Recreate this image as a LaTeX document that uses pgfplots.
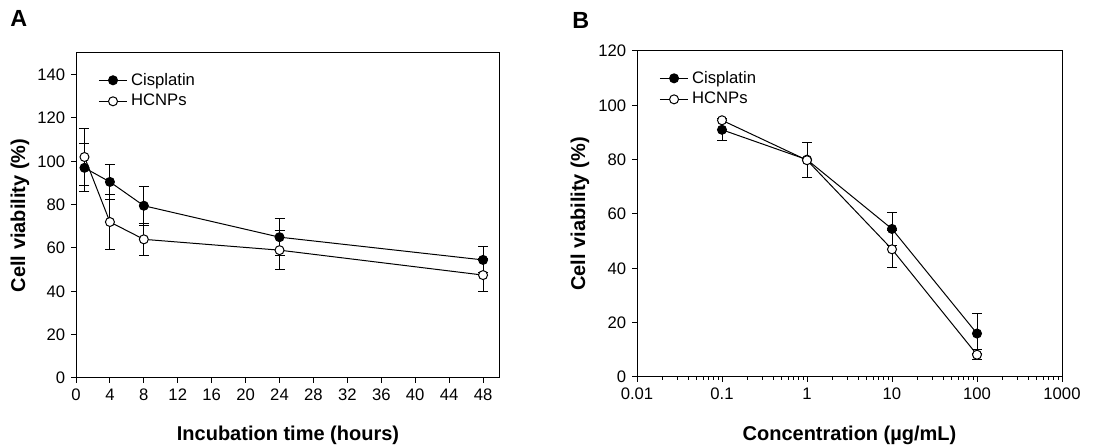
\documentclass[border=0pt]{standalone}
\usepackage{fontspec}
\setmainfont{Liberation Sans}
\usepackage{pgfplots}
\usepackage{pgfplotstable}
\pgfplotsset{compat=1.18}

\pgfplotstableread{
x   y     e
1   97    11
4   90.5  8
8   79.5  9
24  65    8.5
48  54.5  6
}\timeCis
\pgfplotstableread{
x   y     e
1   102   13
4   72    12.5
8   64    7.5
24  59    9
48  47.5  7.5
}\timeHC
\pgfplotstableread{
x     y     e
0.1   91    4
1     80    6.5
10    54.5  6
100   16    7.5
}\concCis
\pgfplotstableread{
x     y     e
0.1   94.5  0
1     79.8  6.5
10    47    6.8
100   8.2   1.8
}\concHC

\pgfplotsset{
  cellstyle/.style={
    scale only axis, anchor=south west,
    axis line style={line width=0.6pt},
    tick align=outside, tick pos=left,
    major tick length=3pt, minor tick length=1.8pt,
    tick style={line width=0.6pt, black},
    tick label style={font=\fontsize{10}{12}\selectfont},
    /pgf/number format/assume math mode=true,
    label style={font=\fontsize{12}{14}\selectfont\bfseries},
    legend style={draw=none, fill=none, font=\fontsize{10}{12}\selectfont,
      at={(0.04,0.96)}, anchor=north west},
    legend cell align=left,
  },
  filledser/.style={black, line width=0.6pt, mark=*, mark size=2.7pt,
    mark options={fill=black, line width=0.6pt}},
  openser/.style={black, line width=0.6pt, mark=*, mark size=2.7pt,
    mark options={fill=white, line width=0.6pt}},
}

\begin{document}
\begin{tikzpicture}
\useasboundingbox (0,0) rectangle (670.2pt,267pt);

\begin{axis}[cellstyle, at={(45.6pt,40.2pt)},
  width=254.4pt, height=195pt,
  xmin=0, xmax=50, ymin=0, ymax=150,
  xtick={0,4,...,48}, ytick={0,20,...,140},
  xlabel={Incubation time (hours)}, ylabel={Cell viability (\%)},
  xlabel style={at={(axis description cs:0.5,-0.175)}, anchor=center},
  ylabel style={at={(axis description cs:-0.132,0.5)}, anchor=center},
]
\addplot[filledser, error bars/.cd, y dir=both, y explicit,
  error bar style={line width=0.6pt},
  error mark options={rotate=90, mark size=3pt, line width=0.6pt}]
  table[x=x, y=y, y error=e] {\timeCis};
\addlegendentry{Cisplatin}
\addplot[openser, error bars/.cd, y dir=both, y explicit,
  error bar style={line width=0.6pt},
  error mark options={rotate=90, mark size=3pt, line width=0.6pt}]
  table[x=x, y=y, y error=e] {\timeHC};
\addlegendentry{HCNPs}
\end{axis}

\begin{axis}[cellstyle, at={(382.2pt,40.8pt)},
  width=255pt, height=195.6pt,
  xmode=log, xmin=0.01, xmax=1000, ymin=0, ymax=120,
  xtick={0.01,0.1,1,10,100,1000},
  xticklabels={0.01,0.1,1,10,100,1000},
  ytick={0,20,...,120},
  xlabel={Concentration (µg/mL)}, ylabel={Cell viability (\%)},
  xlabel style={at={(axis description cs:0.5,-0.178)}, anchor=center},
  ylabel style={at={(axis description cs:-0.134,0.5)}, anchor=center},
]
\addplot[filledser, error bars/.cd, y dir=both, y explicit,
  error bar style={line width=0.6pt},
  error mark options={rotate=90, mark size=3pt, line width=0.6pt}]
  table[x=x, y=y, y error=e] {\concCis};
\addlegendentry{Cisplatin}
\addplot[openser, error bars/.cd, y dir=both, y explicit,
  error bar style={line width=0.6pt},
  error mark options={rotate=90, mark size=3pt, line width=0.6pt}]
  table[x=x, y=y, y error=e] {\concHC};
\addlegendentry{HCNPs}
\end{axis}

\node[font=\fontsize{14}{16}\selectfont\bfseries, anchor=north west, inner sep=0pt]
  at (6pt,261pt) {A};
\node[font=\fontsize{14}{16}\selectfont\bfseries, anchor=north west, inner sep=0pt]
  at (343.2pt,259.8pt) {B};
\end{tikzpicture}
\end{document}
